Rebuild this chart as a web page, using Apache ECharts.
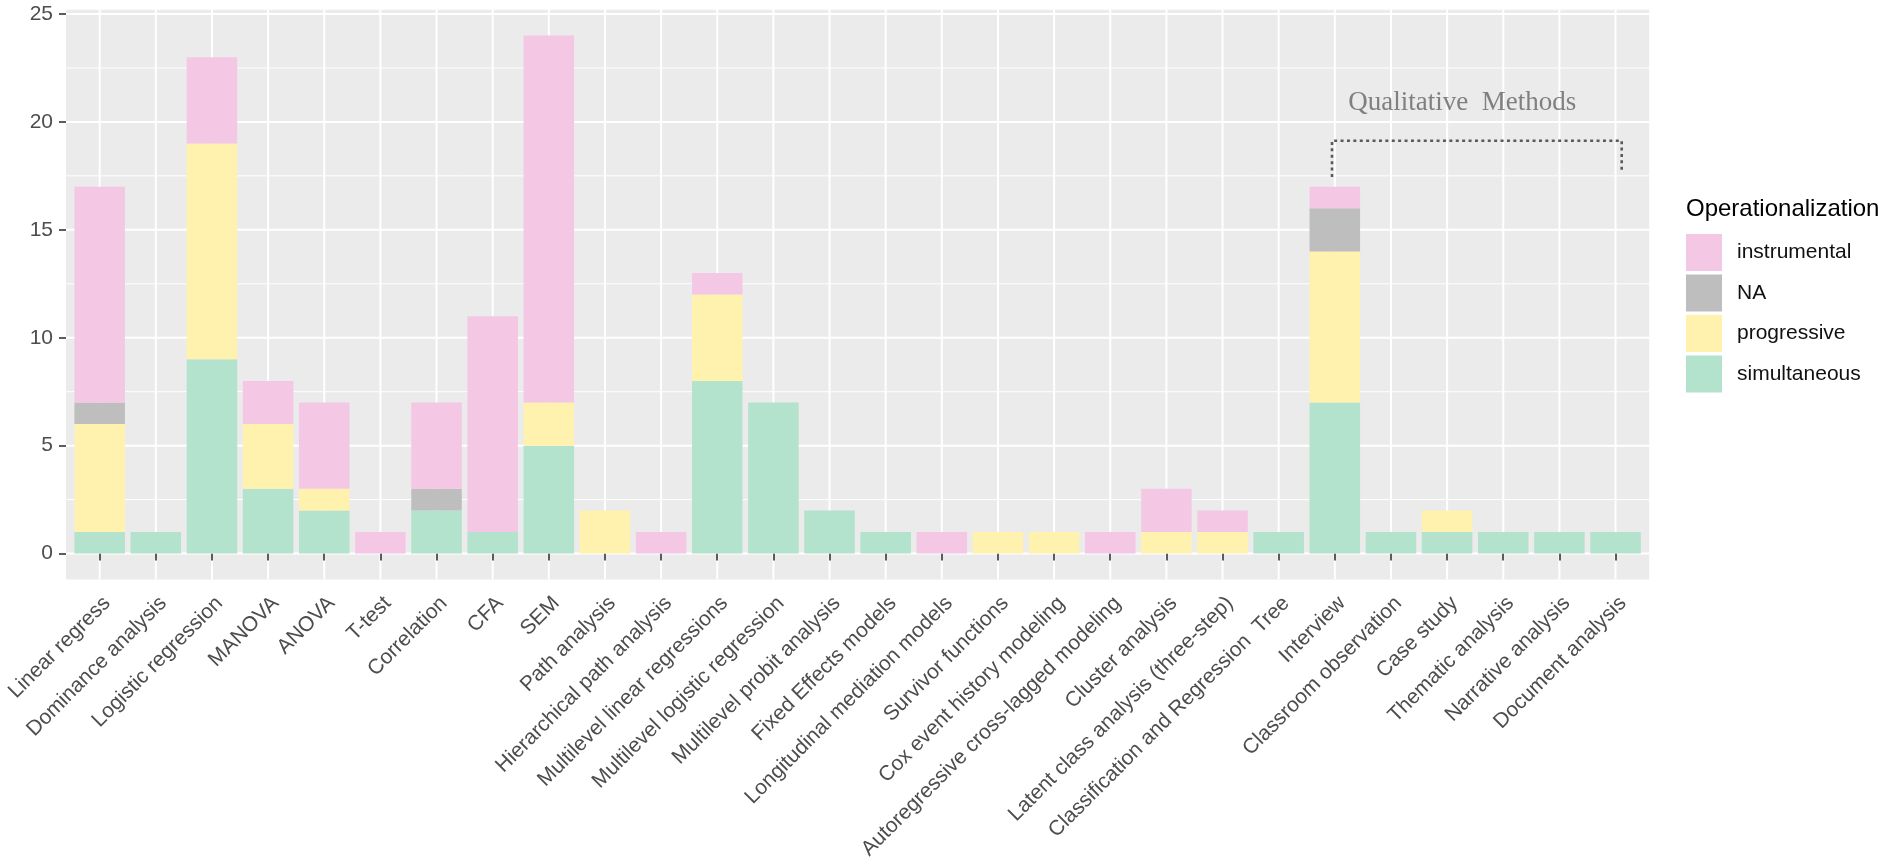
<!DOCTYPE html>
<html>
<head>
<meta charset="utf-8">
<script src="https://cdn.jsdelivr.net/npm/echarts@6/dist/echarts.min.js"></script>
<style>
html,body{margin:0;padding:0;background:#fff;}
#c{width:1902px;height:867px;}
</style>
</head>
<body>
<div id="c"></div>
<script>
const categories = [
  "Linear regress", "Dominance analysis", "Logistic regression", "MANOVA", "ANOVA", "T-test",
  "Correlation", "CFA", "SEM", "Path analysis", "Hierarchical path analysis",
  "Multilevel linear regressions", "Multilevel logistic regression", "Multilevel probit analysis",
  "Fixed Effects models", "Longitudinal mediation models", "Survivor functions",
  "Cox event history modeling", "Autoregressive cross-lagged modeling", "Cluster analysis",
  "Latent class analysis (three-step)", "Classification and Regression  Tree", "Interview",
  "Classroom observation", "Case study", "Thematic analysis", "Narrative analysis", "Document analysis"
];
const simultaneous = [1,1,9,3,2,0,2,1,5,0,0,8,7,2,1,0,0,0,0,0,0,1,7,1,1,1,1,1];
const progressive  = [5,0,10,3,1,0,0,0,2,2,0,4,0,0,0,0,1,1,0,1,1,0,7,0,1,0,0,0];
const naValues     = [1,0,0,0,0,0,1,0,0,0,0,0,0,0,0,0,0,0,0,0,0,0,2,0,0,0,0,0];
const instrumental = [10,0,4,2,4,1,4,10,17,0,1,1,0,0,0,1,0,0,1,2,1,0,1,0,0,0,0,0];
const yMajorTicks = [0,5,10,15,20,25];
const yMinorTicks = [2.5,7.5,12.5,17.5,22.5];
const legendOrder = ["instrumental","NA","progressive","simultaneous"];
const annotationText = "Qualitative  Methods";

const colors = {
  instrumental: "#F4C8E4",
  NA: "#BEBEBE",
  progressive: "#FFF2AE",
  simultaneous: "#B3E2CD"
};

const chart = echarts.init(document.getElementById('c'));
const FONT = "Liberation Sans";

function mkSeries(name, data) {
  return {
    name: name, type: 'bar', stack: 'total', data: data,
    barWidth: '90%', itemStyle: { color: colors[name] },
    emphasis: { disabled: true }, z: 2
  };
}

const option = {
  animation: false,
  backgroundColor: '#ffffff',
  title: {
    text: 'Operationalization', left: 1686, top: 197, padding: 0,
    textStyle: { fontFamily: FONT, fontSize: 24, fontWeight: 'normal', color: '#000' }
  },
  legend: {
    orient: 'vertical', left: 1686, top: 234, padding: 0,
    itemWidth: 36, itemHeight: 37, itemGap: 3.5, icon: 'rect',
    data: legendOrder,
    selectedMode: false,
    textStyle: { fontFamily: FONT, fontSize: 21, color: '#111', padding: [0,0,0,10] }
  },
  grid: { left: 71.6, right: 258.4, top: 14, bottom: 313.4, containLabel: false },
  xAxis: {
    type: 'category', data: categories, offset: 26,
    axisLine: { show: false },
    axisTick: { show: true, alignWithLabel: true, length: 7, lineStyle: { color: '#333', width: 1.6 } },
    axisLabel: {
      interval: 0, rotate: 45, margin: 13, align: 'right', verticalAlign: 'top',
      fontFamily: FONT, fontSize: 21, color: '#4D4D4D'
    },
    splitLine: { show: false }
  },
  yAxis: {
    type: 'value', min: 0, max: 25, interval: 5, offset: 5.6,
    axisLine: { show: false },
    axisTick: { show: true, length: 7, lineStyle: { color: '#333', width: 1.6 } },
    axisLabel: { margin: 13, fontFamily: FONT, fontSize: 21, color: '#4D4D4D' },
    splitLine: { show: false }
  },
  series: [
    mkSeries('simultaneous', simultaneous),
    mkSeries('progressive', progressive),
    mkSeries('NA', naValues),
    mkSeries('instrumental', instrumental)
  ]
};
chart.setOption(option);

// Panel, gridlines and annotation from the library's scales
const px = i => chart.convertToPixel({ xAxisIndex: 0 }, categories[i]);
const py = v => chart.convertToPixel({ yAxisIndex: 0 }, v);
const band = px(1) - px(0);
const panelL = px(0) - 0.6 * band;
const panelR = px(categories.length - 1) + 0.6 * band;
const panelT = py(25.2);
const panelB = py(-1.2);

const graphics = [];
graphics.push({ type: 'rect', z: -10, silent: true,
  shape: { x: panelL, y: panelT, width: panelR - panelL, height: panelB - panelT },
  style: { fill: '#EBEBEB' } });
yMinorTicks.forEach(v => graphics.push({ type: 'line', z: -5, silent: true,
  shape: { x1: panelL, y1: py(v), x2: panelR, y2: py(v) }, style: { stroke: '#fff', lineWidth: 1 } }));
yMajorTicks.forEach(v => graphics.push({ type: 'line', z: -5, silent: true,
  shape: { x1: panelL, y1: py(v), x2: panelR, y2: py(v) }, style: { stroke: '#fff', lineWidth: 2 } }));
categories.forEach((c, i) => graphics.push({ type: 'line', z: -5, silent: true,
  shape: { x1: px(i), y1: panelT, x2: px(i), y2: panelB }, style: { stroke: '#fff', lineWidth: 2 } }));

// bracket over qualitative methods (Interview .. Document analysis)
const iStart = categories.indexOf('Interview');
const iEnd = categories.indexOf('Document analysis');
const bx1 = px(iStart) - 0.05 * band;
const bx2 = px(iEnd) + 0.11 * band;
graphics.push({ type: 'polyline', z: 10, silent: true,
  shape: { points: [[bx1, py(17.45)], [bx1, py(19.13)], [bx2, py(19.13)], [bx2, py(17.68)]] },
  style: { stroke: '#5a5a5a', lineWidth: 2.6, lineDash: [3, 3.4], fill: null } });
graphics.push({ type: 'text', z: 10, silent: true,
  x: px(iStart) + 2.27 * band, y: py(20.9),
  style: { text: annotationText, fontFamily: 'Liberation Serif', fontSize: 27,
    fill: '#808080', align: 'center', verticalAlign: 'middle' } });

chart.setOption({ graphic: graphics });
</script>
</body>
</html>
